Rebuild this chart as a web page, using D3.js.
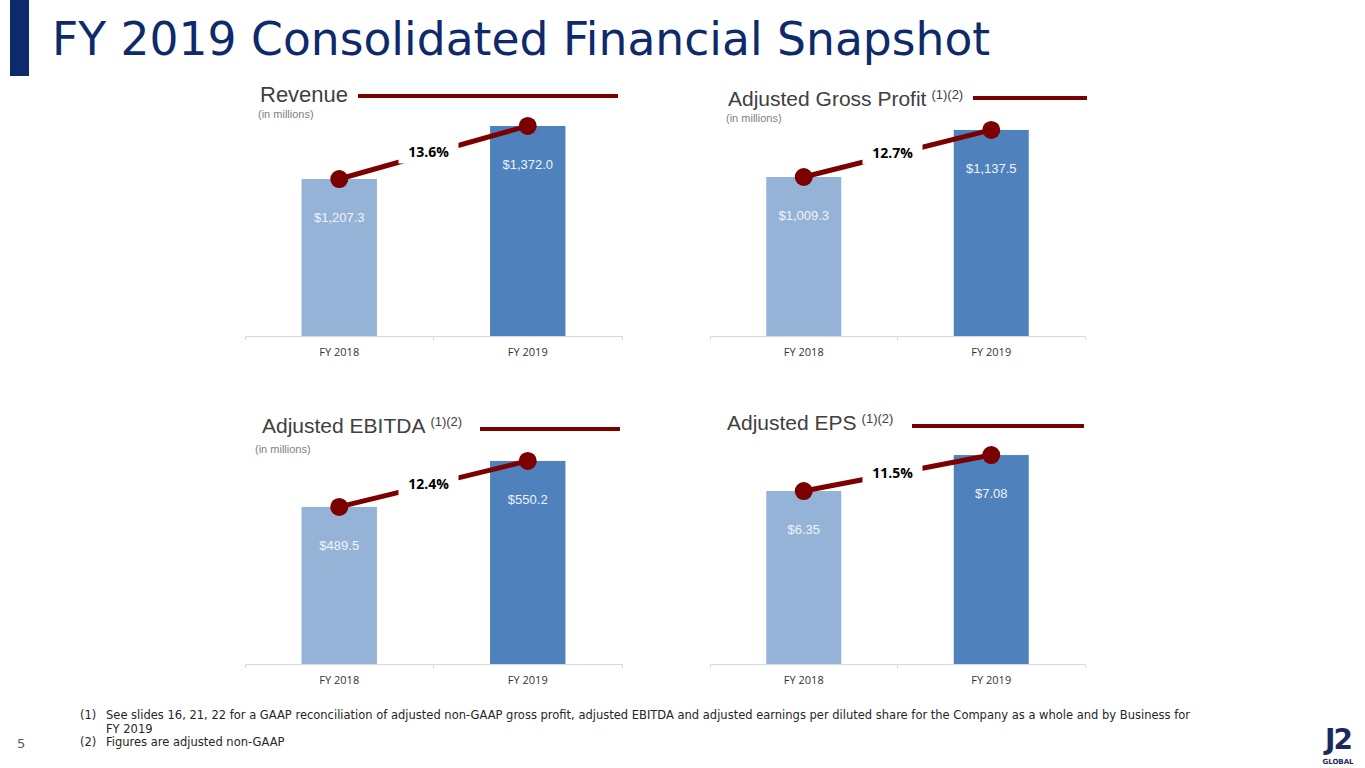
<!DOCTYPE html>
<html>
<head>
<meta charset="utf-8">
<script src="https://cdn.jsdelivr.net/npm/d3@7"></script>
<style>
  html, body { margin: 0; padding: 0; background: #fff; }
  svg { display: block; }
</style>
</head>
<body>
<svg id="slide"></svg>
<script>
// chart values
const categories = ['FY 2018', 'FY 2019'];
const revenue = [1207.3, 1372.0];
const grossProfit = [1009.3, 1137.5];
const ebitda = [489.5, 550.2];
const eps = [6.35, 7.08];
const growthLabels = ['13.6%', '12.7%', '12.4%', '11.5%'];
const footnotes = [
  ['(1)', 'See slides 16, 21, 22 for a GAAP reconciliation of adjusted non-GAAP gross profit, adjusted EBITDA and adjusted earnings per diluted share for the Company as a whole and by Business for'],
  ['', 'FY 2019'],
  ['(2)', 'Figures are adjusted non-GAAP']
];

const width = 1365;
const height = 768;
const navy = '#0e2a6b';
const darkRed = '#7b0000';
const barColors = ['#95b3d7', '#4f81bd'];

const svg = d3.select('#slide')
  .attr('width', width)
  .attr('height', height);

// header
svg.append('rect')
  .attr('x', 10).attr('y', 0)
  .attr('width', 19).attr('height', 76)
  .attr('fill', navy);

svg.append('text')
  .attr('x', 52).attr('y', 55)
  .style('font-family', 'Verdana, "DejaVu Sans", sans-serif')
  .style('font-size', '45.6px')
  .style('fill', navy)
  .text('FY 2019 Consolidated Financial Snapshot');

// each panel: where it sits and how its value axis is cut
const panels = [
  { title: 'Revenue', sup: '', titleSize: 22, millions: true, values: revenue, growth: growthLabels[0],
    fmt: d3.format('$,.1f'), domain: [720, 1465],
    x0: 245, x1: 622, base: 336, titleX: 260, titleY: 102, lineX: [358, 618], lineY: 96, millionsX: 258, millionsY: 118 },
  { title: 'Adjusted Gross Profit', sup: '(1)(2)', titleSize: 21, millions: true, values: grossProfit, growth: growthLabels[1],
    fmt: d3.format('$,.1f'), domain: [576, 1230],
    x0: 710, x1: 1085, base: 336, titleX: 728, titleY: 106, lineX: [973, 1087], lineY: 98, millionsX: 726, millionsY: 121.5 },
  { title: 'Adjusted EBITDA', sup: '(1)(2)', titleSize: 21, millions: true, values: ebitda, growth: growthLabels[2],
    fmt: d3.format('$,.1f'), domain: [282, 599],
    x0: 245, x1: 622, base: 664, titleX: 262, titleY: 433, lineX: [480, 620], lineY: 429, millionsX: 255, millionsY: 453 },
  { title: 'Adjusted EPS', sup: '(1)(2)', titleSize: 21, millions: false, values: eps, growth: growthLabels[3],
    fmt: d3.format('$.2f'), domain: [2.84, 7.71],
    x0: 710, x1: 1085, base: 664, titleX: 727, titleY: 430, lineX: [912, 1084], lineY: 426 }
];

const plotHeight = 240;

panels.forEach(p => {
  const g = svg.append('g');

  const x = d3.scaleBand()
    .domain(categories)
    .range([p.x0, p.x1])
    .paddingInner(0.6)
    .paddingOuter(0.3);

  const y = d3.scaleLinear()
    .domain(p.domain)
    .range([p.base, p.base - plotHeight]);

  // title with its red rule
  const t = g.append('text')
    .attr('x', p.titleX).attr('y', p.titleY)
    .style('font-family', 'Arial, "Liberation Sans", sans-serif')
    .style('font-size', p.titleSize + 'px')
    .style('fill', '#404040')
    .text(p.title);
  if (p.sup) {
    t.append('tspan')
      .attr('dx', 5).attr('dy', -7)
      .style('font-size', '13px')
      .text(p.sup);
  }

  g.append('line')
    .attr('x1', p.lineX[0]).attr('x2', p.lineX[1])
    .attr('y1', p.lineY).attr('y2', p.lineY)
    .attr('stroke', darkRed)
    .attr('stroke-width', 4);

  if (p.millions) {
    g.append('text')
      .attr('x', p.millionsX).attr('y', p.millionsY)
      .style('font-family', 'Arial, "Liberation Sans", sans-serif')
      .style('font-size', '11px')
      .style('fill', '#7f7f7f')
      .text('(in millions)');
  }

  // bars
  g.selectAll('rect.bar')
    .data(p.values)
    .join('rect')
    .attr('class', 'bar')
    .attr('x', (d, i) => x(categories[i]))
    .attr('y', d => y(d))
    .attr('width', x.bandwidth())
    .attr('height', d => p.base - y(d))
    .attr('fill', (d, i) => barColors[i]);

  g.selectAll('text.val')
    .data(p.values)
    .join('text')
    .attr('class', 'val')
    .attr('x', (d, i) => x(categories[i]) + x.bandwidth() / 2)
    .attr('y', d => y(d) + 43)
    .attr('text-anchor', 'middle')
    .style('font-family', 'Arial, "Liberation Sans", sans-serif')
    .style('font-size', '13px')
    .style('fill', '#eef3fa')
    .text(d => p.fmt(d));

  // axis
  const axis = g.append('g')
    .attr('transform', `translate(0,${p.base})`)
    .call(d3.axisBottom(x).tickSizeInner(0).tickSizeOuter(4).tickPadding(12));
  axis.select('.domain').attr('stroke', '#d9d9d9');
  axis.selectAll('.tick text')
    .style('font-family', '"Open Sans", sans-serif')
    .style('font-size', '11px')
    .style('fill', '#333');

  const mid = x(categories[1]) - x.step() * x.paddingInner() / 2;
  axis.append('line')
    .attr('x1', mid).attr('x2', mid)
    .attr('y1', 0).attr('y2', 4)
    .attr('stroke', '#d9d9d9');

  // growth line
  const pts = p.values.map((d, i) => [x(categories[i]) + x.bandwidth() / 2, y(d)]);
  g.append('path')
    .datum(pts)
    .attr('d', d3.line())
    .attr('fill', 'none')
    .attr('stroke', darkRed)
    .attr('stroke-width', 5);

  g.selectAll('circle')
    .data(pts)
    .join('circle')
    .attr('cx', d => d[0])
    .attr('cy', d => d[1])
    .attr('r', 9)
    .attr('fill', darkRed);

  const mx = (pts[0][0] + pts[1][0]) / 2 - 5;
  const my = (pts[0][1] + pts[1][1]) / 2;
  g.append('rect')
    .attr('x', mx - 30).attr('y', my - 11)
    .attr('width', 60).attr('height', 22)
    .attr('fill', '#fff');
  g.append('text')
    .attr('x', mx).attr('y', my + 5)
    .attr('text-anchor', 'middle')
    .style('font-family', '"Open Sans", sans-serif')
    .style('font-weight', 'bold')
    .style('font-size', '14px')
    .style('fill', '#000')
    .text(p.growth);
});

// footnotes
const notes = svg.append('g')
  .style('font-family', 'Verdana, "DejaVu Sans", sans-serif')
  .style('font-size', '11.5px')
  .style('fill', '#262626');

footnotes.forEach((f, i) => {
  const yy = 719 + i * 13.5;
  notes.append('text').attr('x', 80).attr('y', yy).text(f[0]);
  notes.append('text').attr('x', 106).attr('y', yy).text(f[1]);
});

svg.append('text')
  .attr('x', 17).attr('y', 748)
  .style('font-family', 'Verdana, "DejaVu Sans", sans-serif')
  .style('font-size', '13px')
  .style('fill', '#595959')
  .text('5');

// logo
svg.append('text')
  .attr('x', 1338).attr('y', 749)
  .attr('text-anchor', 'middle')
  .style('font-family', '"DejaVu Sans", sans-serif')
  .style('font-weight', 'bold')
  .style('font-size', '28px')
  .style('letter-spacing', '-2px')
  .style('fill', '#1b2a5e')
  .text('J2');
svg.append('text')
  .attr('x', 1338).attr('y', 764)
  .attr('text-anchor', 'middle')
  .style('font-family', '"DejaVu Sans", sans-serif')
  .style('font-weight', 'bold')
  .style('font-size', '7px')
  .style('fill', '#1b2a5e')
  .text('GLOBAL');
</script>
</body>
</html>
